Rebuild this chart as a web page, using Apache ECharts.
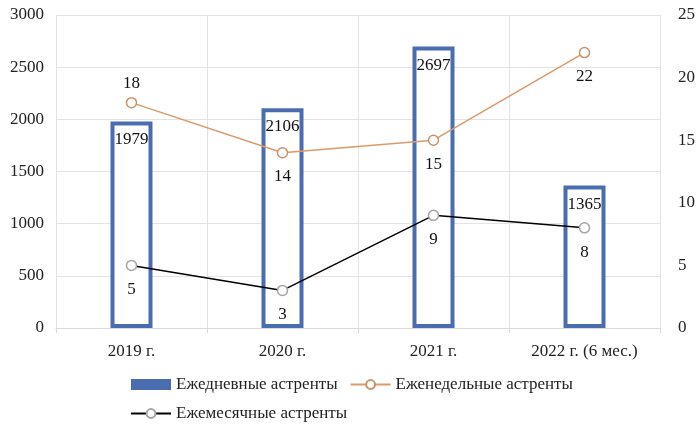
<!DOCTYPE html>
<html lang="ru">
<head>
    <meta charset="UTF-8">
    <title>Астренты</title>
    <script type="text/javascript" src="https://cdn.jsdelivr.net/npm/echarts@6/dist/echarts.min.js"></script>
    <style>
        html, body { margin: 0; padding: 0; background: #fff; }
    </style>
</head>
<body>
<div id="main" style="width:700px;height:430px;"></div>

<script type="text/javascript">
    // данные
    var years = ['2019 г.', '2020 г.', '2021 г.', '2022 г. (6 мес.)'];
    var dailyData = [1979, 2106, 2697, 1365];
    var weeklyData = [18, 14, 15, 22];
    var monthlyData = [5, 3, 9, 8];
    var weeklyLabelPos = ['top', 'bottom', 'bottom', 'bottom'];

    var font = '"Liberation Serif", "Times New Roman", serif';

    var myChart = echarts.init(document.getElementById('main'));

    var weeklySeries = [];
    for (var i = 0; i < weeklyData.length; i++) {
        weeklySeries.push({
            value: weeklyData[i],
            label: { position: weeklyLabelPos[i], distance: weeklyLabelPos[i] == 'top' ? 5 : 10 }
        });
    }

    var option = {
        backgroundColor: '#fff',
        textStyle: { fontFamily: font },
        legend: {
            left: 125,
            top: 371,
            width: 500,
            itemGap: 12,
            itemWidth: 40,
            itemHeight: 11,
            textStyle: { fontFamily: font, fontSize: 17, color: '#222' },
            data: [
                { name: 'Ежедневные астренты', icon: 'rect', itemStyle: { color: '#4a6db0', borderWidth: 0 } },
                { name: 'Еженедельные астренты' },
                { name: 'Ежемесячные астренты' }
            ]
        },
        grid: { left: 56, right: 40, top: 15, bottom: 102 },
        xAxis: {
            type: 'category',
            data: years,
            axisLine: { lineStyle: { color: '#d9d9d9' } },
            axisTick: { show: true, lineStyle: { color: '#d9d9d9' } },
            splitLine: { show: true, lineStyle: { color: '#e3e3e3' } },
            axisLabel: { fontFamily: font, fontSize: 17, color: '#222', margin: 15 }
        },
        yAxis: [{
            type: 'value',
            min: 0, max: 3000, interval: 500,
            axisLine: { show: false },
            axisTick: { show: false },
            splitLine: { lineStyle: { color: '#e3e3e3' } },
            axisLabel: {
                fontFamily: font, fontSize: 17, color: '#222', margin: 12,
                formatter: function (v) { return String(v); }
            }
        }, {
            type: 'value',
            min: 0, max: 25, interval: 5,
            axisLine: { show: false },
            axisTick: { show: false },
            splitLine: { show: false },
            axisLabel: { fontFamily: font, fontSize: 17, color: '#222', margin: 18 }
        }],
        series: [{
            name: 'Ежедневные астренты',
            type: 'bar',
            barWidth: 42,
            data: dailyData,
            itemStyle: { color: '#fff', borderColor: '#4a6db0', borderWidth: 4 },
            label: {
                show: true, position: 'insideTop', distance: 10,
                fontFamily: font, fontSize: 17, color: '#111'
            },
            z: 1
        }, {
            name: 'Еженедельные астренты',
            type: 'line',
            yAxisIndex: 1,
            data: weeklySeries,
            symbol: 'circle',
            symbolSize: 10,
            lineStyle: { color: '#dc9a68', width: 1.5 },
            itemStyle: { color: '#fff', borderColor: '#c8936a', borderWidth: 1.5 },
            label: { show: true, fontFamily: font, fontSize: 17, color: '#111' },
            z: 3
        }, {
            name: 'Ежемесячные астренты',
            type: 'line',
            yAxisIndex: 1,
            data: monthlyData,
            symbol: 'circle',
            symbolSize: 10,
            lineStyle: { color: '#000', width: 1.5 },
            itemStyle: { color: '#fff', borderColor: '#a5a5a5', borderWidth: 1.5 },
            label: { show: true, position: 'bottom', distance: 10, fontFamily: font, fontSize: 17, color: '#111' },
            z: 3
        }]
    };

    myChart.setOption(option);
</script>
</body>
</html>
